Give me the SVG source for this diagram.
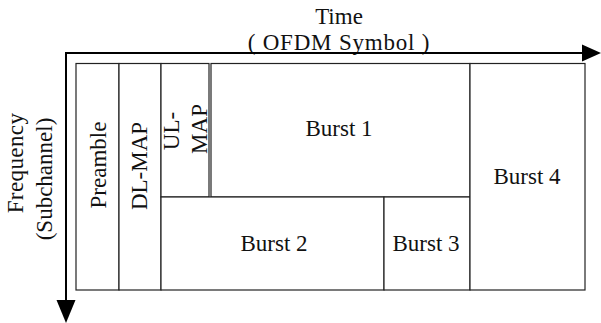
<svg xmlns="http://www.w3.org/2000/svg" width="601" height="323" viewBox="0 0 601 323">
<style>
text{font-family:"Liberation Serif","Times New Roman",serif;font-size:23px;fill:#111}
.c{text-anchor:middle}
.box{fill:#fff;stroke:#222;stroke-width:1.2}
.axis{stroke:#000;stroke-width:2;fill:none}
</style>
<g id="axis-labels">
<text class="c" x="339" y="24">Time</text>
<text class="c" x="339" y="50" style="letter-spacing:0.8px">( OFDM Symbol )</text>
<text class="c" transform="translate(23,163) rotate(-90)" style="letter-spacing:0.4px">Frequency</text>
<text class="c" transform="translate(52,179) rotate(-90)">(Subchannel)</text>
</g>
<g id="connectors">
<path class="axis" d="M65,53 L583,53"/>
<path d="M582,44.5 L601,53 L582,61.5 z" fill="#000"/>
<path class="axis" d="M66,53 L66,301"/>
<path d="M56.5,300 L66,323 L75.5,300 z" fill="#000"/>
</g>
<g id="preamble">
<rect class="box" x="76" y="63.5" width="43" height="226.5"/>
<text class="c" transform="translate(106,165) rotate(-90)">Preamble</text>
</g>
<g id="dl-map">
<rect class="box" x="119" y="63.5" width="42" height="226.5"/>
<text class="c" transform="translate(147,166) rotate(-90)">DL-MAP</text>
</g>
<g id="ul-map">
<rect class="box" x="161" y="63.5" width="48" height="133.5"/>
<text class="c" transform="translate(179,131) rotate(-90)">UL-</text>
<text class="c" transform="translate(207,129) rotate(-90)">MAP</text>
</g>
<g id="burst1">
<rect class="box" x="211" y="63.5" width="259" height="133.5"/>
<text class="c" x="339" y="136">Burst 1</text>
</g>
<g id="burst2">
<rect class="box" x="161" y="197" width="223" height="93"/>
<text class="c" x="274" y="251">Burst 2</text>
</g>
<g id="burst3">
<rect class="box" x="384" y="197" width="86" height="93"/>
<text class="c" x="426" y="251">Burst 3</text>
</g>
<g id="burst4">
<rect class="box" x="470" y="63.5" width="115" height="226.5"/>
<text class="c" x="527" y="184">Burst 4</text>
</g>
</svg>
